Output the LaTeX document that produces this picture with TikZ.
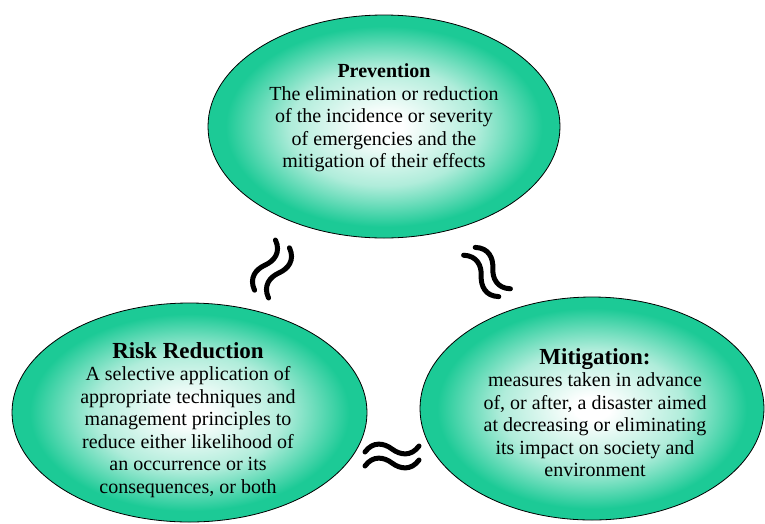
\documentclass[tikz,border=0pt]{standalone}
\usepackage{fontspec}
\setmainfont{Liberation Serif}
\usetikzlibrary{shapes.geometric}
\definecolor{myteal}{RGB}{28,202,150}
\colorlet{tealA}{myteal!35!white}
\colorlet{tealB}{myteal!62!white}
\pgfdeclareradialshading{ellshade}{\pgfpoint{0bp}{0bp}}{color(0bp)=(white); color(2.6bp)=(white); color(13.3bp)=(tealA); color(17.2bp)=(tealB); color(22.5bp)=(myteal); color(50bp)=(myteal)}
\tikzset{
  bubble/.style={ellipse, draw=black, line width=0.8pt, shading=ellshade, inner sep=0pt},
  body/.style={align=center, inner sep=0pt, font=\fontsize{20}{22.5}\selectfont, text=black},
  wave/.style={line width=5pt, line cap=round, draw=black},
  pics/approx/.style={code={
    \foreach \d in {-#1,#1} {
      \draw[wave, shift={(0,\d)}] (-27,3) .. controls (-19,-8) and (-8,-6) .. (0,0) .. controls (8,6) and (19,8) .. (27,-3);
    }
  }}
}
\begin{document}
\begin{tikzpicture}[x=1pt, y=-1pt]
\useasboundingbox (0,0) rectangle (765,523);
\node[bubble, minimum width=352pt, minimum height=223pt] (pe) at (384,126.5) {};
\node[bubble, minimum width=355pt, minimum height=219pt] (re) at (189.5,412.5) {};
\node[bubble, minimum width=344pt, minimum height=223pt] (me) at (592,408.5) {};
\node[body] (pt) at (384,118) {\textbf{Prevention}\\The elimination or reduction\\of the incidence or severity\\of emergencies and the\\mitigation of their effects};
\node[body] (rt) at (188,420) {{\fontsize{23}{23}\selectfont\bfseries Risk Reduction}\\A selective application of\\appropriate techniques and\\management principles to\\reduce either likelihood of\\an occurrence or its\\consequences, or both};
\node[body] (mt) at (595,412.5) {{\fontsize{23}{23}\selectfont\bfseries Mitigation:}\\measures taken in advance\\of, or after, a disaster aimed\\at decreasing or eliminating\\its impact on society and\\environment};
\pic (wl) at (272,269) [rotate=61] {approx=8};
\pic (wr) at (487,272) [rotate=-56] {approx=7};
\pic (wb) at (392,456) {approx=7};
\end{tikzpicture}
\end{document}
